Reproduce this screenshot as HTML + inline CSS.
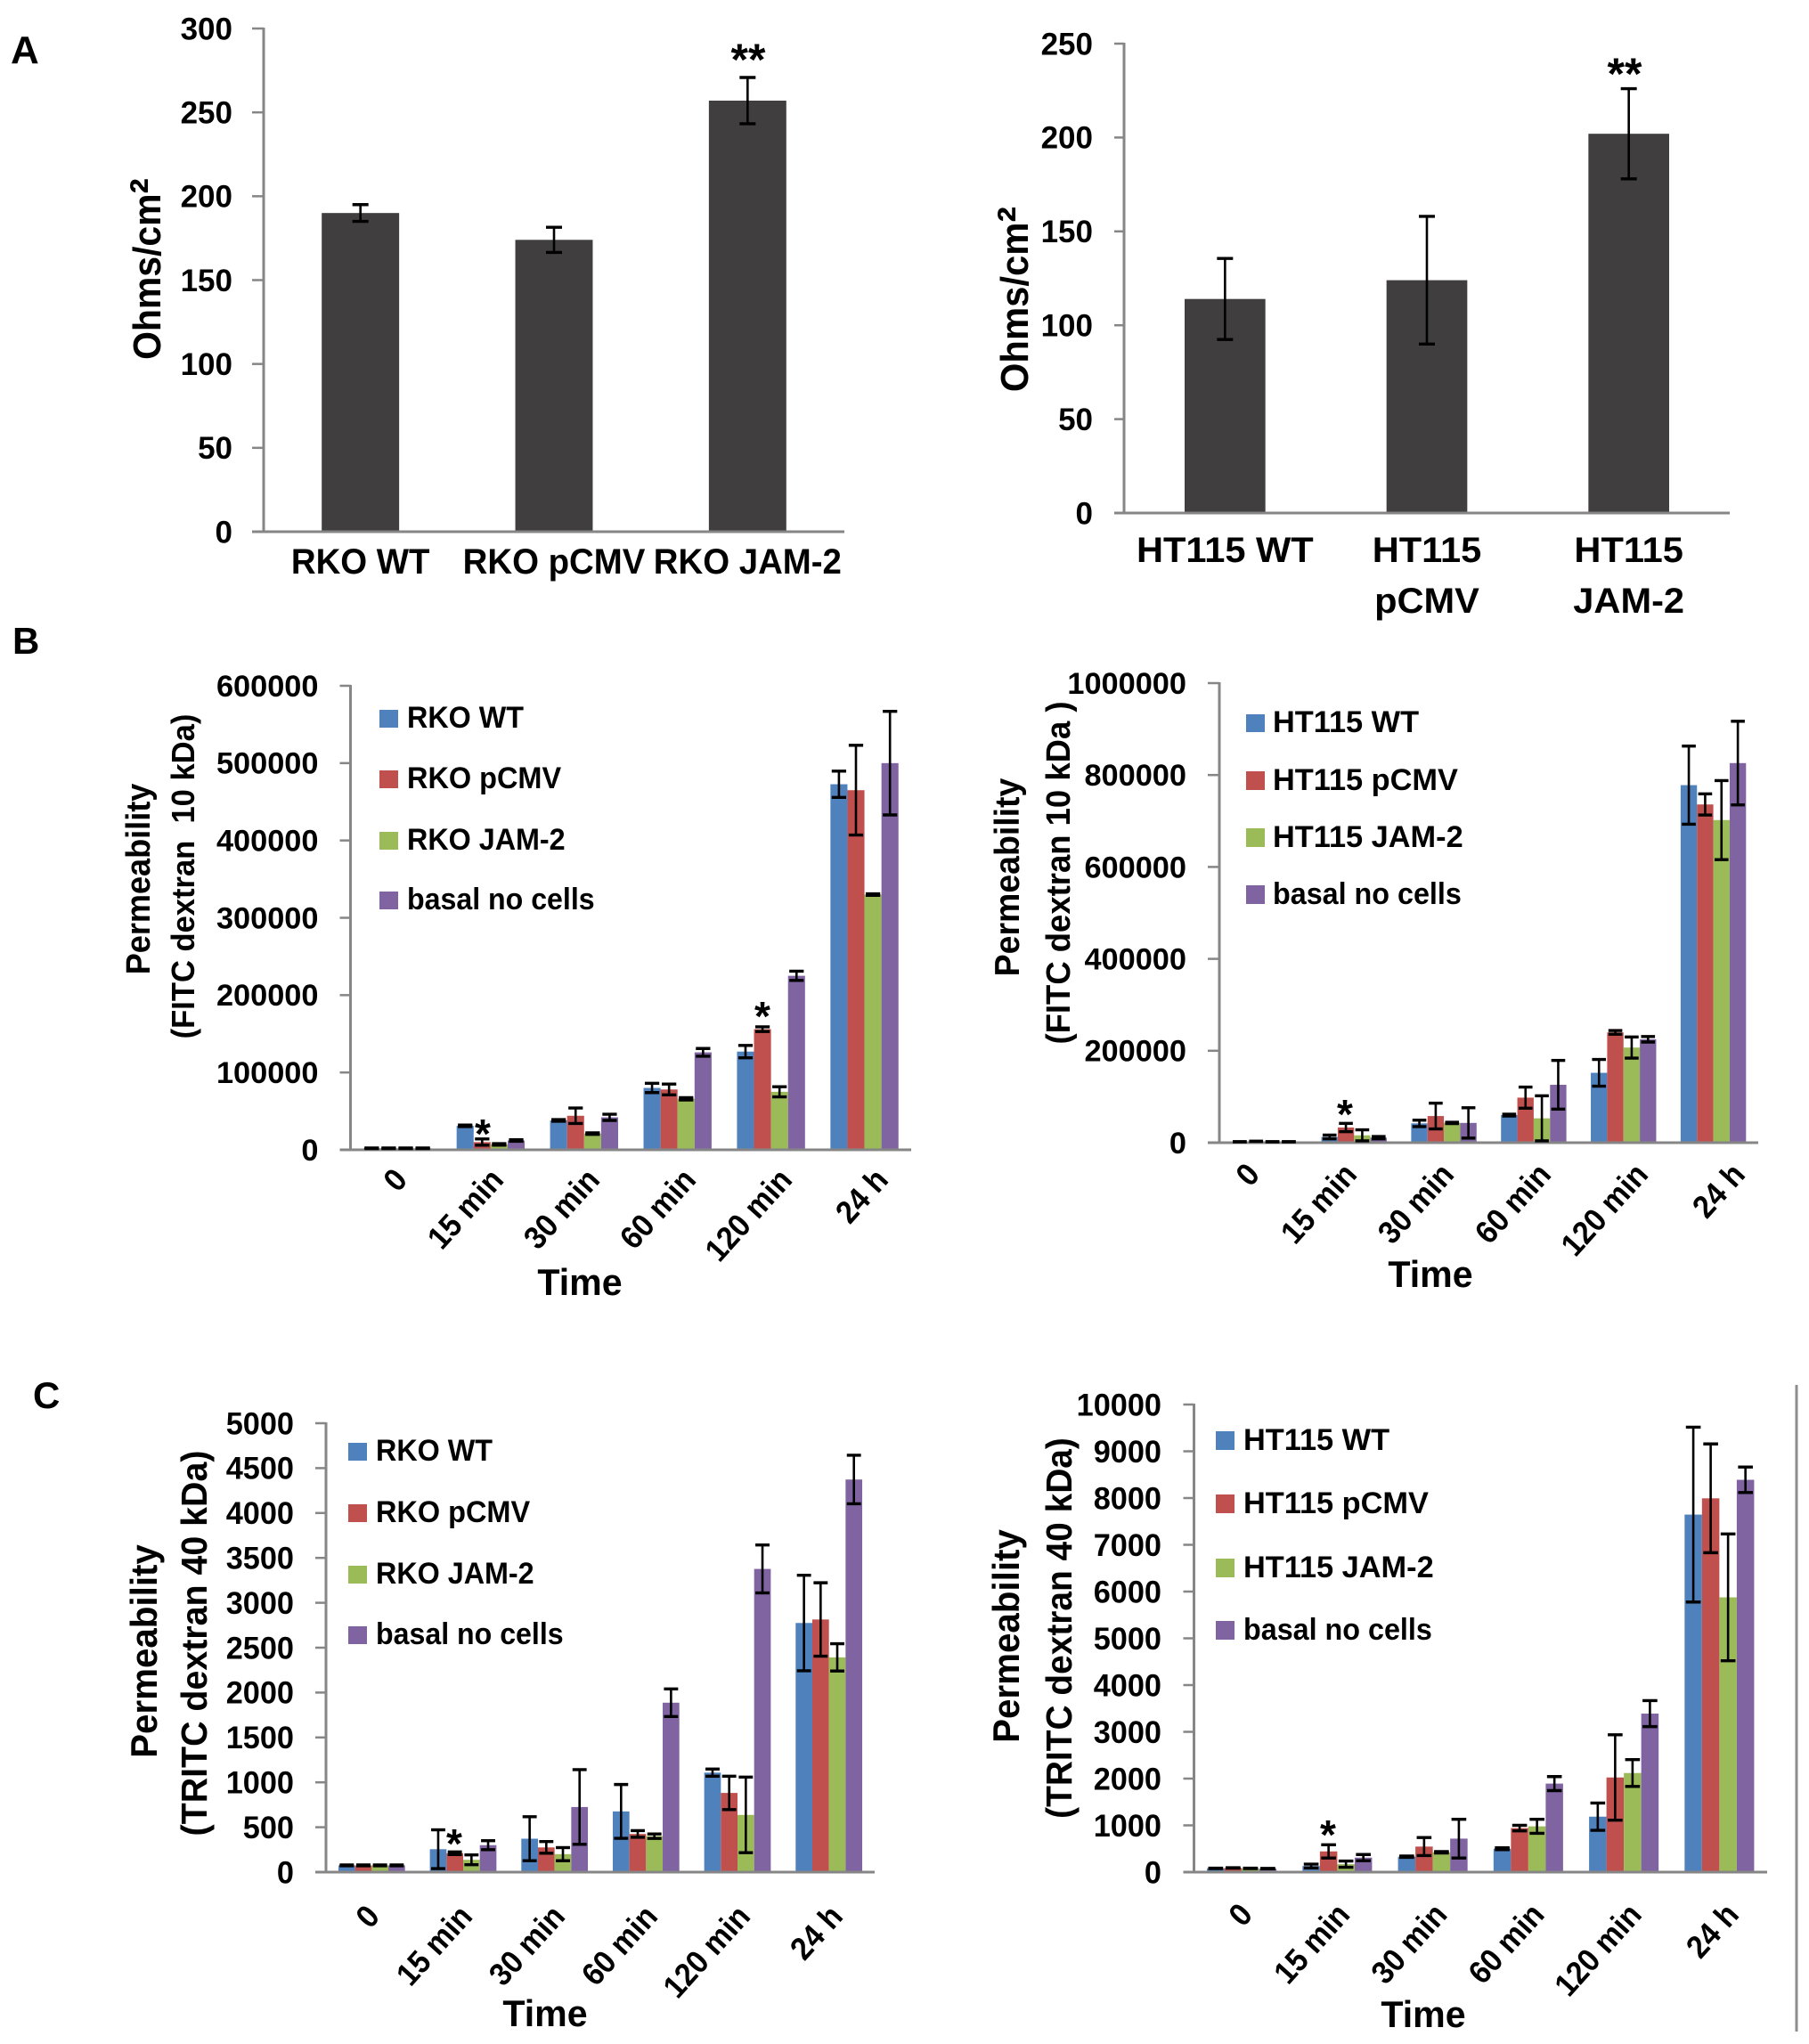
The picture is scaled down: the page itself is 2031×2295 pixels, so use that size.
<!DOCTYPE html>
<html lang="en">
<head>
<meta charset="utf-8">
<title>Transepithelial resistance and permeability charts</title>
<style>
html,body{margin:0;padding:0;background:#fff;}
svg{display:block;}
text{font-family:"Liberation Sans",sans-serif;font-weight:700;fill:#000;}
</style>
</head>
<body>
<svg id="figure" xmlns="http://www.w3.org/2000/svg" width="2031" height="2295" viewBox="0 0 2031 2295">
<rect x="0" y="0" width="2031" height="2295" fill="#ffffff"/>

<g id="panel-a-rko"></g>
<g id="panel-a-ht"></g>
<g id="panel-b-rko"></g>
<g id="panel-b-ht"></g>
<g id="panel-c-rko"></g>
<g id="panel-c-ht"></g>

<text x="12" y="71" font-size="44">A</text>
<text x="14" y="734" font-size="42">B</text>
<text x="37" y="1581" font-size="42">C</text>

<text transform="translate(180,302) rotate(-90) scale(.93,1)" text-anchor="middle" font-size="44">Ohms/cm<tspan font-size="56" dy="5">²</tspan></text>
<text transform="translate(1154,336) rotate(-90) scale(.95,1)" text-anchor="middle" font-size="44">Ohms/cm<tspan font-size="56" dy="5">²</tspan></text>
<text x="840" y="84" text-anchor="middle" font-size="50">**</text>
<text x="1824" y="100" text-anchor="middle" font-size="50">**</text>

<text transform="translate(168,987) rotate(-90) scale(.95,1)" text-anchor="middle" font-size="38">Permeability</text>
<text transform="translate(218,984) rotate(-90) scale(.96,1)" text-anchor="middle" font-size="36" xml:space="preserve">(FITC dextran  10 kDa)</text>
<text transform="translate(651,1454) scale(.98,1)" text-anchor="middle" font-size="42">Time</text>
<text x="542" y="1289" text-anchor="middle" font-size="46">*</text>
<text x="856" y="1157" text-anchor="middle" font-size="46">*</text>
<g>
<rect x="426" y="797" width="21" height="20" fill="#4F81BD"/>
<text transform="translate(457,817) scale(.95,1)" font-size="34">RKO WT</text>
<rect x="426" y="865" width="21" height="20" fill="#C0504D"/>
<text transform="translate(457,885) scale(.955,1)" font-size="34">RKO pCMV</text>
<rect x="426" y="934" width="21" height="20" fill="#9BBB59"/>
<text transform="translate(457,954) scale(.95,1)" font-size="34">RKO JAM-2</text>
<rect x="426" y="1001" width="21" height="20" fill="#8064A2"/>
<text transform="translate(457,1021) scale(.945,1)" font-size="34">basal no cells</text>
</g>

<text transform="translate(1144,985) rotate(-90) scale(.96,1)" text-anchor="middle" font-size="39">Permeability</text>
<text transform="translate(1201,980) rotate(-90) scale(.96,1)" text-anchor="middle" font-size="38">(FITC dextran 10 kDa )</text>
<text transform="translate(1606,1445) scale(.98,1)" text-anchor="middle" font-size="42">Time</text>
<text x="1510" y="1267" text-anchor="middle" font-size="46">*</text>
<g>
<rect x="1399" y="802" width="21" height="20" fill="#4F81BD"/>
<text transform="translate(1429,822) scale(1.01,1)" font-size="34">HT115 WT</text>
<rect x="1399" y="866" width="21" height="21" fill="#C0504D"/>
<text transform="translate(1429,887) scale(1.01,1)" font-size="34">HT115 pCMV</text>
<rect x="1399" y="930" width="21" height="21" fill="#9BBB59"/>
<text transform="translate(1429,951) scale(1.01,1)" font-size="34">HT115 JAM-2</text>
<rect x="1399" y="994" width="21" height="21" fill="#8064A2"/>
<text transform="translate(1429,1015) scale(.95,1)" font-size="34">basal no cells</text>
</g>

<text transform="translate(176,1854) rotate(-90) scale(.96,1)" text-anchor="middle" font-size="42">Permeability</text>
<text transform="translate(232,1845) rotate(-90) scale(.96,1)" text-anchor="middle" font-size="41">(TRITC dextran 40 kDa)</text>
<text transform="translate(612,2275) scale(.98,1)" text-anchor="middle" font-size="42">Time</text>
<text x="510" y="2086" text-anchor="middle" font-size="46">*</text>
<g>
<rect x="391" y="1620" width="21" height="20" fill="#4F81BD"/>
<text transform="translate(422,1640) scale(.95,1)" font-size="34">RKO WT</text>
<rect x="391" y="1689" width="21" height="20" fill="#C0504D"/>
<text transform="translate(422,1709) scale(.955,1)" font-size="34">RKO pCMV</text>
<rect x="391" y="1758" width="21" height="20" fill="#9BBB59"/>
<text transform="translate(422,1778) scale(.95,1)" font-size="34">RKO JAM-2</text>
<rect x="391" y="1826" width="21" height="20" fill="#8064A2"/>
<text transform="translate(422,1846) scale(.945,1)" font-size="34">basal no cells</text>
</g>

<text transform="translate(1144,1837) rotate(-90) scale(.96,1)" text-anchor="middle" font-size="42">Permeability</text>
<text transform="translate(1203,1828) rotate(-90) scale(.96,1)" text-anchor="middle" font-size="40.5">(TRITC dextran 40 kDa)</text>
<text transform="translate(1598,2276) scale(.98,1)" text-anchor="middle" font-size="42">Time</text>
<text x="1491" y="2076" text-anchor="middle" font-size="46">*</text>
<g>
<rect x="1365" y="1607" width="21" height="21" fill="#4F81BD"/>
<text transform="translate(1396,1628) scale(1.01,1)" font-size="34">HT115 WT</text>
<rect x="1365" y="1678" width="21" height="21" fill="#C0504D"/>
<text transform="translate(1396,1699) scale(1.01,1)" font-size="34">HT115 pCMV</text>
<rect x="1365" y="1750" width="21" height="21" fill="#9BBB59"/>
<text transform="translate(1396,1771) scale(1.01,1)" font-size="34">HT115 JAM-2</text>
<rect x="1365" y="1820" width="21" height="21" fill="#8064A2"/>
<text transform="translate(1396,1841) scale(.95,1)" font-size="34">basal no cells</text>
</g>

<line x1="2017" y1="1555" x2="2017" y2="2281" stroke="#8e8e8e" stroke-width="3"/>
</svg>

<script>
// Panel A data
const resistanceRkoCategories = ['RKO WT', 'RKO pCMV', 'RKO JAM-2'];
const resistanceRkoValues = [190, 174, 257];
const resistanceRkoErrors = [5, 7.5, 13.8];
const resistanceRkoTicks = [0, 50, 100, 150, 200, 250, 300];

const resistanceHtCategories = ['HT115 WT', 'HT115|pCMV', 'HT115|JAM-2'];
const resistanceHtValues = [114, 124, 202];
const resistanceHtErrors = [21.6, 34, 24];
const resistanceHtTicks = [0, 50, 100, 150, 200, 250];

// Shared time categories
const timeCategories = ['0', '15 min', '30 min', '60 min', '120 min', '24 h'];
const seriesColors = ['#4F81BD', '#C0504D', '#9BBB59', '#8064A2'];
const seriesSlugs = ['wt', 'pcmv', 'jam2', 'basal'];

// Panel B, RKO
const fitcRkoTicks = [0, 100000, 200000, 300000, 400000, 500000, 600000];
const fitcRkoWt = [2000, 31000, 38000, 80000, 127000, 472700];
const fitcRkoPcmv = [2000, 10000, 44000, 78000, 156000, 465000];
const fitcRkoJam = [2000, 7000, 21000, 66000, 75000, 330000];
const fitcRkoBasal = [2000, 12000, 42000, 126000, 225000, 500000];
const fitcRkoWtErr = [300, 1000, 1000, 6000, 8000, 17000];
const fitcRkoPcmvErr = [300, 4000, 10000, 7000, 3000, 58000];
const fitcRkoJamErr = [300, 1000, 1000, 1500, 6500, 1000];
const fitcRkoBasalErr = [300, 1000, 4000, 5000, 6000, 67000];

// Panel B, HT115
const fitcHtTicks = [0, 200000, 400000, 600000, 800000, 1000000];
const fitcHtWt = [2000, 12500, 42000, 60000, 152000, 778000];
const fitcHtPcmv = [3000, 33000, 58000, 98000, 240000, 736000];
const fitcHtJam = [2000, 16000, 43000, 53000, 207000, 702000];
const fitcHtBasal = [2000, 11000, 43000, 126000, 225000, 826000];
const fitcHtWtErr = [300, 4000, 7000, 2000, 29000, 85000];
const fitcHtPcmvErr = [300, 9000, 28000, 23000, 4000, 23000];
const fitcHtJamErr = [300, 12000, 1500, 49000, 23000, 86000];
const fitcHtBasalErr = [300, 2500, 33000, 53000, 6000, 91000];

// Panel C, RKO
const tritcRkoTicks = [0, 500, 1000, 1500, 2000, 2500, 3000, 3500, 4000, 4500, 5000];
const tritcRkoWt = [75, 255, 372, 676, 1108, 2775];
const tritcRkoPcmv = [75, 210, 275, 425, 882, 2814];
const tritcRkoJam = [75, 137, 200, 400, 637, 2392];
const tritcRkoBasal = [75, 300, 725, 1887, 3377, 4373];
const tritcRkoWtErr = [5, 216, 245, 300, 40, 532];
const tritcRkoPcmvErr = [5, 15, 65, 37, 186, 409];
const tritcRkoJamErr = [5, 55, 73, 25, 421, 152];
const tritcRkoBasalErr = [5, 50, 416, 154, 267, 270];

// Panel C, HT115
const tritcHtTicks = [0, 1000, 2000, 3000, 4000, 5000, 6000, 7000, 8000, 9000, 10000];
const tritcHtWt = [80, 130, 330, 500, 1186, 7646];
const tritcHtPcmv = [90, 443, 546, 942, 2024, 7994];
const tritcHtJam = [80, 170, 424, 979, 2119, 5876];
const tritcHtBasal = [75, 310, 716, 1893, 3390, 8390];
const tritcHtWtErr = [5, 40, 15, 20, 292, 1870];
const tritcHtPcmvErr = [5, 141, 193, 60, 913, 1163];
const tritcHtJamErr = [5, 66, 15, 150, 287, 1356];
const tritcHtBasalErr = [5, 66, 414, 150, 278, 273];

const SVG_NS = 'http://www.w3.org/2000/svg';
const AXIS_COLOR = '#868686';

function make(parent, tag, attrs, content) {
  const el = document.createElementNS(SVG_NS, tag);
  for (const k in attrs) el.setAttribute(k, attrs[k]);
  if (content !== undefined) el.textContent = content;
  parent.appendChild(el);
  return el;
}

function drawAxes(root, box, ticks, yScale, prefix) {
  const yLine = make(root, 'line', {x1: box.x, y1: box.top - 1, x2: box.x, y2: box.base, stroke: AXIS_COLOR, 'stroke-width': 3});
  
  
  const xLine = make(root, 'line', {x1: box.x - box.tick, y1: box.base, x2: box.right, y2: box.base, stroke: AXIS_COLOR, 'stroke-width': 3});
  
  
  ticks.forEach(function (t) {
    const y = yScale(t);
    const mark = make(root, 'line', {x1: box.x - box.tick, y1: y, x2: box.x, y2: y, stroke: AXIS_COLOR, 'stroke-width': 2.5});
    
    
    const label = make(root, 'text', {
      transform: 'translate(' + (box.x - box.labelGap) + ',' + (y + box.tickFont * 0.35) + ') scale(' + box.tickSx + ',1)',
      'text-anchor': 'end', 'font-size': box.tickFont
    }, String(t));
    
    
  });
}

function drawErrorBar(root, cx, value, err, yScale, capW, prefix) {
  const hi = yScale(value + err), lo = yScale(value - err);
  const g = make(root, 'g', {stroke: '#000', 'stroke-width': 2.6, fill: 'none'});
  
  
  make(g, 'line', {x1: cx, y1: hi, x2: cx, y2: lo});
  make(g, 'line', {x1: cx - capW / 2, y1: hi, x2: cx + capW / 2, y2: hi, 'stroke-width': 3.4});
  make(g, 'line', {x1: cx - capW / 2, y1: lo, x2: cx + capW / 2, y2: lo, 'stroke-width': 3.4});
}

function drawSimplePanel(id, box, ticks, cats, values, errors, prefix) {
  const root = document.getElementById(id);
  const yScale = function (v) { return box.base - v / ticks[ticks.length - 1] * (box.base - box.top); };
  const step = (box.right - box.x) / cats.length;
  const xCenter = function (i) { return box.x + step * (i + 0.5); };
  const barW = step * 0.4;
  values.forEach(function (v, i) {
    const bar = make(root, 'rect', {x: xCenter(i) - barW / 2, y: yScale(v), width: barW, height: box.base - yScale(v), fill: '#403E3E'});
    
    
  });
  drawAxes(root, box, ticks, yScale, prefix);
  values.forEach(function (v, i) {
    drawErrorBar(root, xCenter(i), v, errors[i], yScale, 18, prefix);
  });
  cats.forEach(function (c, i) {
    c.split('|').forEach(function (line, j) {
      const t = make(root, 'text', {
        transform: 'translate(' + xCenter(i) + ',' + (box.catY + j * box.catLine) + ') scale(' + box.catSx + ',1)',
        'text-anchor': 'middle', 'font-size': 40
      }, line);
      
      
    });
  });
}

function drawGroupedPanel(id, box, ticks, cats, series, errors, prefix) {
  const root = document.getElementById(id);
  const yScale = function (v) { return box.base - v / ticks[ticks.length - 1] * (box.base - box.top); };
  const step = (box.right - box.x) / cats.length;
  const barW = step * 0.182;
  const xBar = function (i, s) { return box.x + step * (i + 0.5) + (s - 2) * barW; };
  series.forEach(function (vals, s) {
    vals.forEach(function (v, i) {
      const bar = make(root, 'rect', {x: xBar(i, s), y: yScale(v), width: barW, height: box.base - yScale(v), fill: seriesColors[s]});
      
      
    });
  });
  drawAxes(root, box, ticks, yScale, prefix);
  series.forEach(function (vals, s) {
    vals.forEach(function (v, i) {
      drawErrorBar(root, xBar(i, s) + barW / 2, v, errors[s][i], yScale, barW * 0.85, prefix);
    });
  });
  cats.forEach(function (c, i) {
    const t = make(root, 'text', {
      transform: 'translate(' + (box.catX0 + box.catStep * i) + ',' + (box.base + box.catDy) + ') rotate(-48) scale(.93,1)',
      'text-anchor': 'end', 'font-size': 36
    }, c);
    
    
  });
}

drawSimplePanel('panel-a-rko',
  {x: 296, top: 32, base: 597, right: 948, tick: 13, labelGap: 35, tickFont: 35, tickSx: 1.0, catY: 644, catLine: 57, catSx: .96},
  resistanceRkoTicks, resistanceRkoCategories, resistanceRkoValues, resistanceRkoErrors, 'a-rko');

drawSimplePanel('panel-a-ht',
  {x: 1262, top: 49, base: 576, right: 1942, tick: 11, labelGap: 35, tickFont: 35, tickSx: 1.0, catY: 631, catLine: 57, catSx: 1.04},
  resistanceHtTicks, resistanceHtCategories, resistanceHtValues, resistanceHtErrors, 'a-ht115');

drawGroupedPanel('panel-b-rko',
  {x: 393.5, top: 770, base: 1291, right: 1023, tick: 12, labelGap: 36, tickFont: 34, tickSx: 1.01, catX0: 459, catStep: 108, catDy: 35},
  fitcRkoTicks, timeCategories,
  [fitcRkoWt, fitcRkoPcmv, fitcRkoJam, fitcRkoBasal],
  [fitcRkoWtErr, fitcRkoPcmvErr, fitcRkoJamErr, fitcRkoBasalErr], 'b-rko');

drawGroupedPanel('panel-b-ht',
  {x: 1369, top: 767, base: 1283, right: 1974, tick: 13, labelGap: 37, tickFont: 34, tickSx: 1.01, catX0: 1416, catStep: 109, catDy: 37},
  fitcHtTicks, timeCategories,
  [fitcHtWt, fitcHtPcmv, fitcHtJam, fitcHtBasal],
  [fitcHtWtErr, fitcHtPcmvErr, fitcHtJamErr, fitcHtBasalErr], 'b-ht115');

drawGroupedPanel('panel-c-rko',
  {x: 366, top: 1598, base: 2102, right: 982, tick: 12, labelGap: 36, tickFont: 35, tickSx: .98, catX0: 428, catStep: 104, catDy: 51},
  tritcRkoTicks, timeCategories,
  [tritcRkoWt, tritcRkoPcmv, tritcRkoJam, tritcRkoBasal],
  [tritcRkoWtErr, tritcRkoPcmvErr, tritcRkoJamErr, tritcRkoBasalErr], 'c-rko');

drawGroupedPanel('panel-c-ht',
  {x: 1340.5, top: 1577, base: 2102, right: 1984, tick: 12, labelGap: 36.5, tickFont: 35, tickSx: .98, catX0: 1408, catStep: 109.2, catDy: 49},
  tritcHtTicks, timeCategories,
  [tritcHtWt, tritcHtPcmv, tritcHtJam, tritcHtBasal],
  [tritcHtWtErr, tritcHtPcmvErr, tritcHtJamErr, tritcHtBasalErr], 'c-ht115');
</script>
</body>
</html>
